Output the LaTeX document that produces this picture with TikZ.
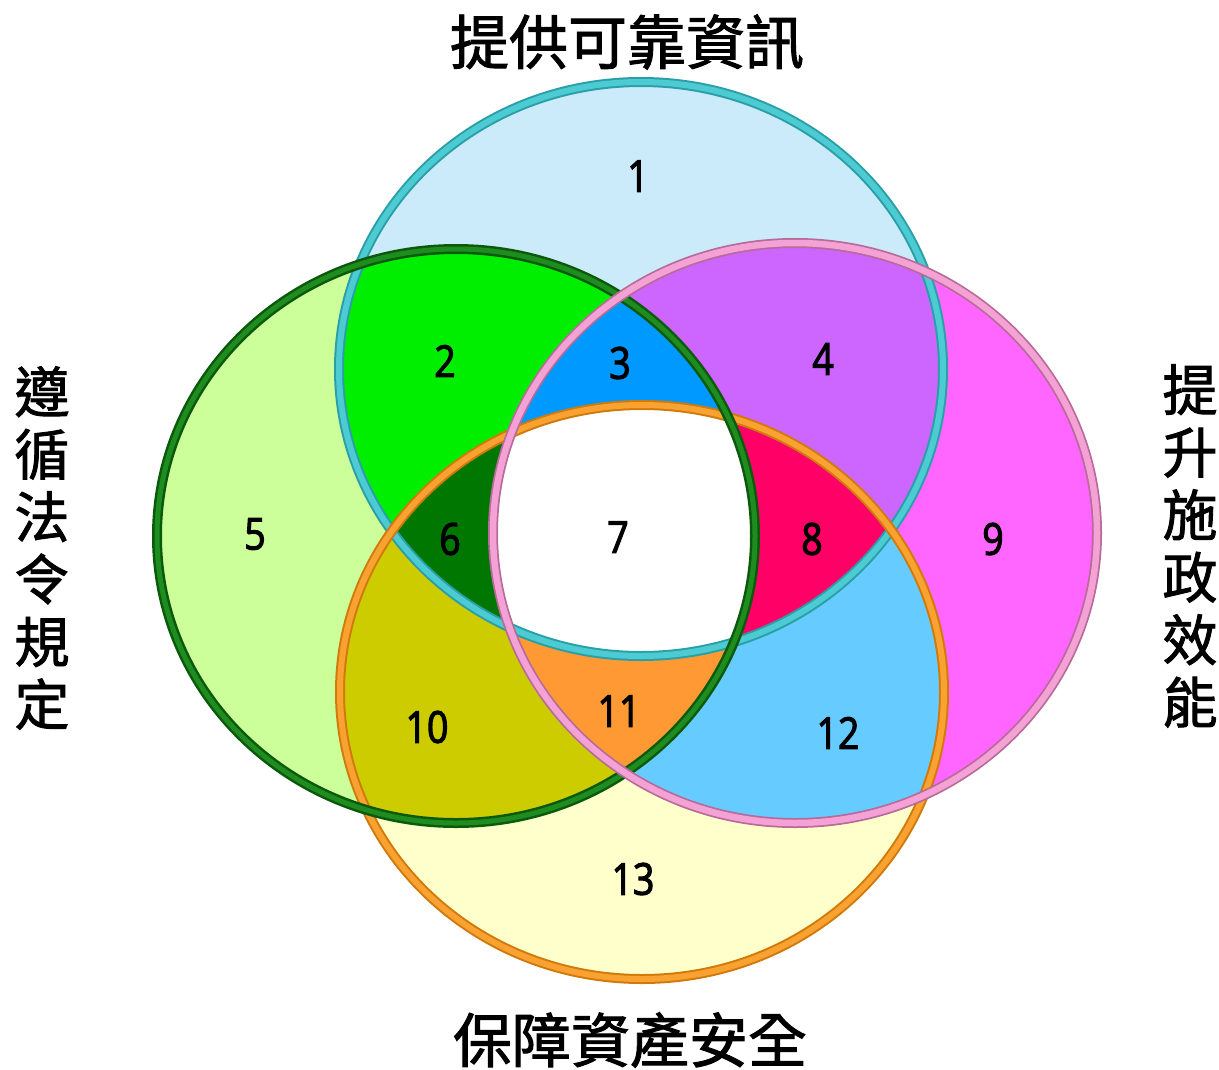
\documentclass[tikz,border=0pt]{standalone}
\usepackage{fontspec}
\newfontfamily\cjk[FakeBold=1.6]{Noto Sans CJK TC}
\newfontfamily\numfont[FakeStretch=0.85,FakeBold=2.5]{Open Sans}
\definecolor{ftop}{HTML}{CCEBFA}
\definecolor{fleft}{HTML}{CCFF99}
\definecolor{fright}{HTML}{FF66FF}
\definecolor{fbot}{HTML}{FFFFCC}
\definecolor{cTwo}{HTML}{00EE00}
\definecolor{cThree}{HTML}{0099FF}
\definecolor{cFour}{HTML}{CC66FF}
\definecolor{cSix}{HTML}{007700}
\definecolor{cEight}{HTML}{FF0066}
\definecolor{cTen}{HTML}{CCCC00}
\definecolor{cEleven}{HTML}{FF9933}
\definecolor{cTwelve}{HTML}{66CCFF}
\definecolor{btopD}{HTML}{2A9FA8}
\definecolor{btopL}{HTML}{4CCBD3}
\definecolor{bleftD}{HTML}{0B5A0B}
\definecolor{bleftL}{HTML}{1F8C1F}
\definecolor{brightD}{HTML}{B86A98}
\definecolor{brightL}{HTML}{F4A2D6}
\definecolor{bbotD}{HTML}{D07A0A}
\definecolor{bbotL}{HTML}{F9A232}
\def\Etop{(641,369) ellipse [x radius=302pt, y radius=287pt]}
\def\Eleft{(456,536) ellipse [x radius=299pt, y radius=287pt]}
\def\Eright{(795,533) ellipse [x radius=302pt, y radius=290pt]}
\def\Ebot{(642,692) ellipse [x radius=302pt, y radius=287pt]}
\tikzset{
  num/.style={font=\numfont\fontsize{44}{50}\selectfont, inner sep=0pt},
  title/.style={font=\cjk\fontsize{59}{62}\selectfont, inner sep=0pt},
  vtitle/.style={font=\cjk\fontsize{55}{62.5}\selectfont, inner sep=0pt, align=center}
}
\begin{document}
\begin{tikzpicture}[x=1pt,y=-1pt]
\useasboundingbox (0,0) rectangle (1219,1069);
% base fills
\fill[ftop] \Etop;
\fill[fleft] \Eleft;
\fill[fright] \Eright;
\fill[fbot] \Ebot;
% pairwise
\begin{scope}\clip \Etop; \fill[cTwo] \Eleft; \end{scope}
\begin{scope}\clip \Etop; \fill[cFour] \Eright; \end{scope}
\begin{scope}\clip \Eleft; \fill[cTen] \Ebot; \end{scope}
\begin{scope}\clip \Eright; \fill[cTwelve] \Ebot; \end{scope}
% triples
\begin{scope}\clip \Etop; \clip \Eleft; \fill[cThree] \Eright; \end{scope}
\begin{scope}\clip \Etop; \clip \Eleft; \fill[cSix] \Ebot; \end{scope}
\begin{scope}\clip \Etop; \clip \Eright; \fill[cEight] \Ebot; \end{scope}
\begin{scope}\clip \Eleft; \clip \Eright; \fill[cEleven] \Ebot; \end{scope}
% all four
\begin{scope}\clip \Etop; \clip \Eleft; \clip \Eright; \fill[white] \Ebot; \end{scope}
% borders
\draw[btopD, line width=10pt] \Etop;
\draw[btopL, line width=6pt] \Etop;
\draw[bbotD, line width=10pt] \Ebot;
\draw[bbotL, line width=6pt] \Ebot;
\draw[bleftD, line width=10pt] \Eleft;
\draw[bleftL, line width=5pt] \Eleft;
\draw[brightD, line width=10pt] \Eright;
\draw[brightL, line width=6.5pt] \Eright;
% numbers
\node[num] (n1) at (638,176) {1};
\node[num] (n2) at (445,361) {2};
\node[num] (n3) at (620,363) {3};
\node[num] (n4) at (823,359) {4};
\node[num] (n5) at (255,534) {5};
\node[num] (n6) at (450,539) {6};
\node[num] (n7) at (618,537) {7};
\node[num] (n8) at (812,539) {8};
\node[num] (n9) at (993,539) {9};
\node[num] (n10) at (427,727) {10};
\node[num] (n11) at (619,711) {11};
\node[num] (n12) at (838,733) {12};
\node[num] (n13) at (633,879) {13};
% titles
\node[title] (ttop) at (627,42) {提供可靠資訊};
\node[title] (tbot) at (630,1040) {保障資產安全};
\node[vtitle] (tleft) at (42,548) {遵\\循\\法\\令\\規\\定};
\node[vtitle] (tright) at (1190,546) {提\\升\\施\\政\\效\\能};
\end{tikzpicture}
\end{document}
